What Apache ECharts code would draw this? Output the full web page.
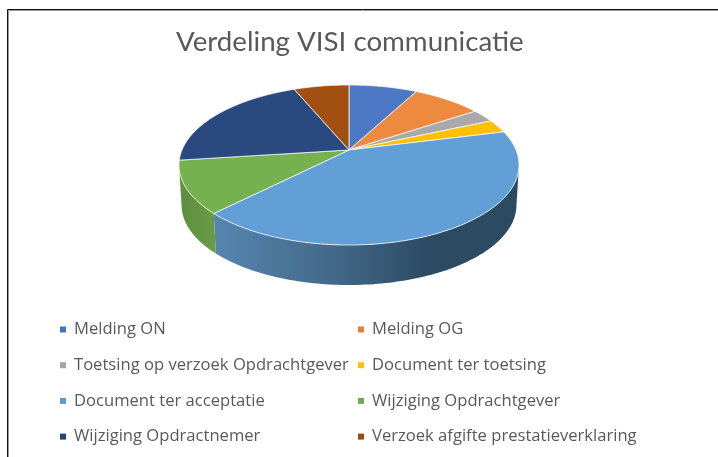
<!DOCTYPE html>
<html>
<head>
<meta charset="utf-8">
<title>Verdeling VISI communicatie</title>
<script src="https://cdn.jsdelivr.net/npm/echarts@6/dist/echarts.min.js"></script>
<style>
  html, body { margin: 0; padding: 0; background: #fff; }
  #main { width: 718px; height: 457px; }
</style>
</head>
<body>
<div id="main"></div>
<script>
var titleText = 'Verdeling VISI communicatie';
var categories = ['Melding ON', 'Melding OG', 'Toetsing op verzoek Opdrachtgever', 'Document ter toetsing',
  'Document ter acceptatie', 'Wijziging Opdrachtgever', 'Wijziging Opdractnemer', 'Verzoek afgifte prestatieverklaring'];
var values = [7.8, 7.9, 2.7, 2.7, 41.4, 10.6, 20.8, 6.3];
var topColors = ['#4c78c5', '#ee8a3f', '#a9a9a9', '#ffc000', '#619fd6', '#76b150', '#2a4a7f', '#a24f12'];
var legendColors = ['#4472c4', '#ed7d31', '#a5a5a5', '#ffc000', '#5b9bd5', '#70ad47', '#264478', '#9e480e'];

// pie geometry: a circle seen in perspective
var cx = 349, cy = 150, ax = 167, ay = 77.2, persp = 0.1875;
var depth = 40, bottomScale = 0.985;

var total = 0;
for (var i = 0; i < values.length; i++) {
  total += values[i];
}

// angle in radians, clockwise from top
function rim(angle) {
  var u = Math.sin(angle), v = -Math.cos(angle);
  var w = 1 - persp * v;
  return [cx + ax * u / w, cy + ay * v / w];
}
function lower(p) {
  return [cx + (p[0] - cx) * bottomScale, p[1] + depth];
}
function arcPoints(a0, a1) {
  var pts = [];
  var n = Math.max(2, Math.ceil((a1 - a0) / 0.02));
  for (var k = 0; k <= n; k++) {
    pts.push(rim(a0 + (a1 - a0) * k / n));
  }
  return pts;
}

// the wall is only seen between these angles
var wallStart = Math.PI / 2 + Math.asin(persp);
var wallEnd = Math.PI * 1.5 - Math.asin(persp);

function wallFill(index) {
  if (index === 5) {
    return new echarts.graphic.LinearGradient(185, 0, 218, 0, [
      { offset: 0, color: '#5f9040' }, { offset: 1, color: '#6a9c48' }
    ], true);
  }
  return new echarts.graphic.LinearGradient(214, 0, 430, 0, [
    { offset: 0, color: '#5586b0' }, { offset: 0.5, color: '#456c8d' }, { offset: 1, color: '#2c4a62' }
  ], true);
}

function renderSlice(index) {
  var start = 0;
  for (var i = 0; i < index; i++) {
    start += values[i];
  }
  var a0 = start / total * Math.PI * 2;
  var a1 = (start + values[index]) / total * Math.PI * 2;
  return function () {
    var children = [];
    var w0 = Math.max(a0, wallStart), w1 = Math.min(a1, wallEnd);
    if (w1 > w0) {
      var upper = arcPoints(w0, w1);
      var wall = upper.concat(upper.map(lower).reverse());
      children.push({ type: 'polygon', shape: { points: wall }, style: { fill: wallFill(index) } });
    }
    var top = [[cx, cy]].concat(arcPoints(a0, a1));
    children.push({
      type: 'polygon',
      shape: { points: top },
      style: { fill: topColors[index], stroke: '#f4f7fb', lineWidth: 0.8, lineJoin: 'round' }
    });
    return { type: 'group', children: children };
  };
}

var seriesList = categories.map(function (name, i) {
  return {
    type: 'custom',
    name: name,
    coordinateSystem: 'none',
    animation: false,
    silent: true,
    itemStyle: { color: legendColors[i] },
    data: [[values[i]]],
    renderItem: renderSlice(i)
  };
});

function legendBlock(left, names) {
  return {
    orient: 'vertical',
    left: left,
    top: 315,
    itemWidth: 6,
    itemHeight: 6,
    itemGap: 16.7,
    icon: 'rect',
    selectedMode: false,
    textStyle: { fontFamily: 'Open Sans', fontSize: 16.6, color: '#595959', lineHeight: 19, padding: [0, 0, 0, 3] },
    data: names
  };
}

var chart = echarts.init(document.getElementById('main'), null, { renderer: 'canvas' });
chart.setOption({
  backgroundColor: '#fff',
  animation: false,
  title: {
    text: titleText,
    left: 171,
    top: 23,
    textStyle: { fontFamily: 'Lato', fontSize: 27.7, fontWeight: 'normal', color: '#595959' }
  },
  legend: [
    legendBlock(55, categories.filter(function (n, i) { return i % 2 === 0; })),
    legendBlock(353, categories.filter(function (n, i) { return i % 2 === 1; }))
  ],
  series: seriesList,
  graphic: [
    { type: 'polyline', silent: true, shape: { points: [[8.5, 457], [8.5, 10.5], [718, 10.5]] },
      style: { stroke: '#9a9a9a', lineWidth: 1, fill: null } },
    { type: 'polyline', silent: true, shape: { points: [[7.5, 457], [7.5, 9.5], [718, 9.5]] },
      style: { stroke: '#111', lineWidth: 1, fill: null } }
  ]
});
</script>
</body>
</html>
